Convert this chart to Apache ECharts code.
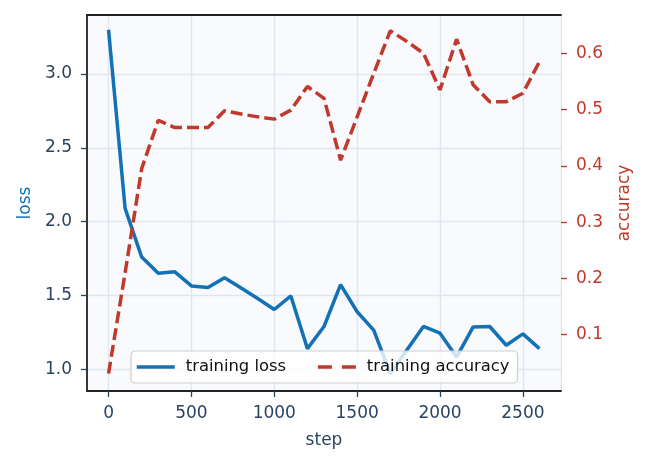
<!DOCTYPE html>
<html lang="en">
<head>
    <meta charset="UTF-8">
    <title>training loss / accuracy</title>
    <script src="https://cdn.jsdelivr.net/npm/echarts@6/dist/echarts.min.js"></script>
    <style>
        html, body { margin: 0; padding: 0; background: #ffffff; }
        #main { width: 647px; height: 467px; }
    </style>
</head>
<body>
<div id="main"></div>

<script type="text/javascript">
    // data
    var steps = [0, 100, 200, 300, 400, 500, 600, 700, 800, 900, 1000, 1100, 1200, 1300,
        1400, 1500, 1600, 1700, 1800, 1900, 2000, 2100, 2200, 2300, 2400, 2500, 2600];
    var trainLoss = [3.30, 2.09, 1.76, 1.65, 1.66, 1.565, 1.554, 1.62, 1.55, 1.48, 1.405, 1.497, 1.14, 1.29,
        1.574, 1.39, 1.265, 0.97, 1.13, 1.29, 1.245, 1.083, 1.287, 1.29, 1.163, 1.24, 1.14];
    var trainAcc = [0.031, 0.21, 0.395, 0.481, 0.468, 0.468, 0.468, 0.498, 0.492, 0.487, 0.483, 0.499, 0.541, 0.52,
        0.41, 0.487, 0.564, 0.64, 0.621, 0.60, 0.535, 0.625, 0.544, 0.514, 0.514, 0.529, 0.585];
    var stepTicks = [0, 500, 1000, 1500, 2000, 2500];
    var lossTicks = [1.0, 1.5, 2.0, 2.5, 3.0];
    var accTicks = [0.1, 0.2, 0.3, 0.4, 0.5, 0.6];

    var blue = '#1372b6';
    var red = '#c0392b';
    var ink = '#2a4360';
    var font = 'DejaVu Sans';

    function pairs(ys) {
        var out = [];
        for (var i = 0; i < steps.length; i++) out.push([steps[i], ys[i]]);
        return out;
    }

    var myChart = echarts.init(document.getElementById('main'), null, {renderer: 'canvas'});

    var option = {
        backgroundColor: '#ffffff',
        animation: false,
        textStyle: {fontFamily: font},
        grid: {
            left: 87, right: 86, top: 15, bottom: 76,
            show: true,
            backgroundColor: '#f8fafd',
            borderWidth: 0
        },
        legend: {
            left: 131, top: 351,
            padding: [8, 8, 8, 4],
            itemWidth: 38, itemHeight: 16, itemGap: 30,
            backgroundColor: 'rgba(255,255,255,0.8)',
            borderColor: '#cfcfcf', borderWidth: 1.2, borderRadius: 4,
            itemStyle: {opacity: 0},
            lineStyle: {width: 3.5},
            textStyle: {color: '#111111', fontSize: 16.4, fontFamily: font, padding: [0, 0, 0, 6]},
            data: [
                {name: 'training loss', lineStyle: {width: 3.5, color: blue}},
                {name: 'training accuracy', lineStyle: {width: 3.5, color: red, type: [14, 10]}}
            ]
        },
        xAxis: [
            {
                type: 'value',
                min: -130, max: 2730,
                name: 'step', nameLocation: 'middle', nameGap: 41,
                nameTextStyle: {color: ink, fontSize: 17, fontFamily: font},
                axisLine: {show: true, onZero: false, lineStyle: {color: '#222222', width: 1.8}},
                axisTick: {show: true, length: 6, customValues: stepTicks, lineStyle: {color: ink, width: 1.3}},
                axisLabel: {customValues: stepTicks, color: ink, fontSize: 17, margin: 14, fontFamily: font,
                    formatter: function (v) { return String(v); }},
                splitLine: {show: true, lineStyle: {color: '#e2e5ed', width: 1.4}}
            },
            {
                type: 'value', position: 'top',
                min: -130, max: 2730,
                axisLine: {show: true, onZero: false, lineStyle: {color: '#222222', width: 1.8}},
                axisTick: {show: false},
                axisLabel: {show: false},
                splitLine: {show: false}
            }
        ],
        yAxis: [
            {
                type: 'value', position: 'left',
                min: 0.853, max: 3.40,
                name: 'loss', nameLocation: 'middle', nameGap: 53, nameRotate: 90,
                nameTextStyle: {color: blue, fontSize: 17, fontFamily: font},
                axisLine: {show: true, onZero: false, lineStyle: {color: '#222222', width: 1.8}},
                axisTick: {show: true, length: 6, customValues: lossTicks, lineStyle: {color: ink, width: 1.3}},
                axisLabel: {customValues: lossTicks, color: ink, fontSize: 17, margin: 15, fontFamily: font,
                    formatter: function (v) { return v.toFixed(1); }},
                splitLine: {show: true, lineStyle: {color: '#e2e5ed', width: 1.4}}
            },
            {
                type: 'value', position: 'right',
                min: 0, max: 0.668,
                name: 'accuracy', nameLocation: 'middle', nameGap: 55, nameRotate: 90,
                nameTextStyle: {color: red, fontSize: 17, fontFamily: font},
                axisLine: {show: true, onZero: false, lineStyle: {color: '#dde1e8', width: 1.2}},
                axisTick: {show: true, length: 6, customValues: accTicks, lineStyle: {color: red, width: 1.3}},
                axisLabel: {customValues: accTicks, color: red, fontSize: 17, margin: 15, fontFamily: font,
                    formatter: function (v) { return v.toFixed(1); }},
                splitLine: {show: false}
            }
        ],
        series: [
            {
                name: 'training loss',
                type: 'line',
                xAxisIndex: 0, yAxisIndex: 0,
                data: pairs(trainLoss),
                symbol: 'none',
                lineStyle: {color: blue, width: 3.5},
                itemStyle: {color: blue}
            },
            {
                name: 'training accuracy',
                type: 'line',
                xAxisIndex: 0, yAxisIndex: 1,
                data: pairs(trainAcc),
                symbol: 'none',
                lineStyle: {color: red, width: 3.5, type: [12, 5]},
                itemStyle: {color: red}
            }
        ]
    };

    myChart.setOption(option);
</script>
</body>
</html>
